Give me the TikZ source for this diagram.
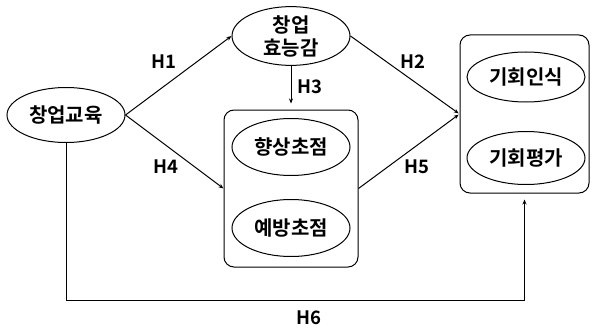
\documentclass[tikz,border=0pt]{standalone}
\usepackage{fontspec}
\setmainfont{Noto Sans CJK KR}[BoldFont={Noto Sans CJK KR Bold}]
\usepackage{tikz}
\usetikzlibrary{arrows.meta, shapes.geometric, positioning}

\begin{document}
\begin{tikzpicture}[
        x=1pt, y=-1pt,
        line width=1pt,
        font=\fontsize{18.5}{21}\selectfont\bfseries,
        varnode/.style={shape=ellipse, draw=black, minimum width=118pt, minimum height=55pt, inner sep=0pt, align=center, font=\fontsize{20}{23}\selectfont\bfseries},
        groupbox/.style={shape=rectangle, draw=black, rounded corners=10pt, inner sep=0pt},
        path/.style={-{Stealth[length=5pt, width=4pt]}},
        hyplabel/.style={inner sep=1pt}
    ]
        \useasboundingbox (0,0) rectangle (592,329);
        % Groups
        \node[groupbox, minimum width=134pt, minimum height=157pt] (focusbox) at (291,188.5) {};
        \node[groupbox, minimum width=129pt, minimum height=158pt] (oppbox) at (524.5,114) {};
        % Variables
        \node[varnode] (edu) at (66,115) {창업교육};
        \node[varnode] (eff) at (291,36) {창업\\효능감};
        \node[varnode, minimum height=57pt] (promo) at (291,147) {향상초점};
        \node[varnode, minimum height=57pt] (prev) at (291,228) {예방초점};
        \node[varnode, minimum height=50pt] (recog) at (526,77) {기회인식};
        \node[varnode, minimum height=53pt] (eval) at (526,158) {기회평가};
        % Paths
        \draw[path] (edu.east) -- (eff.west);
        \draw[path] (edu.east) -- (focusbox.west);
        \draw[path, shorten >=6pt] (eff.south) -- (focusbox.north);
        \draw[path, shorten >=1pt] (eff.east) -- (oppbox.west);
        \draw[path, shorten >=1pt] (focusbox.east) -- (oppbox.west);
        \draw[path, shorten >=6pt] (edu.south) -- (edu.south |- 0,300) -| (oppbox.south);
        % Labels
        \node[hyplabel] (h1) at (164,62) {H1};
        \node[hyplabel] (h2) at (413,62) {H2};
        \node[hyplabel] (h3) at (310,87) {H3};
        \node[hyplabel] (h4) at (166,167) {H4};
        \node[hyplabel] (h5) at (417,167) {H5};
        \node[hyplabel] (h6) at (309,318) {H6};
    \end{tikzpicture}
\end{document}
